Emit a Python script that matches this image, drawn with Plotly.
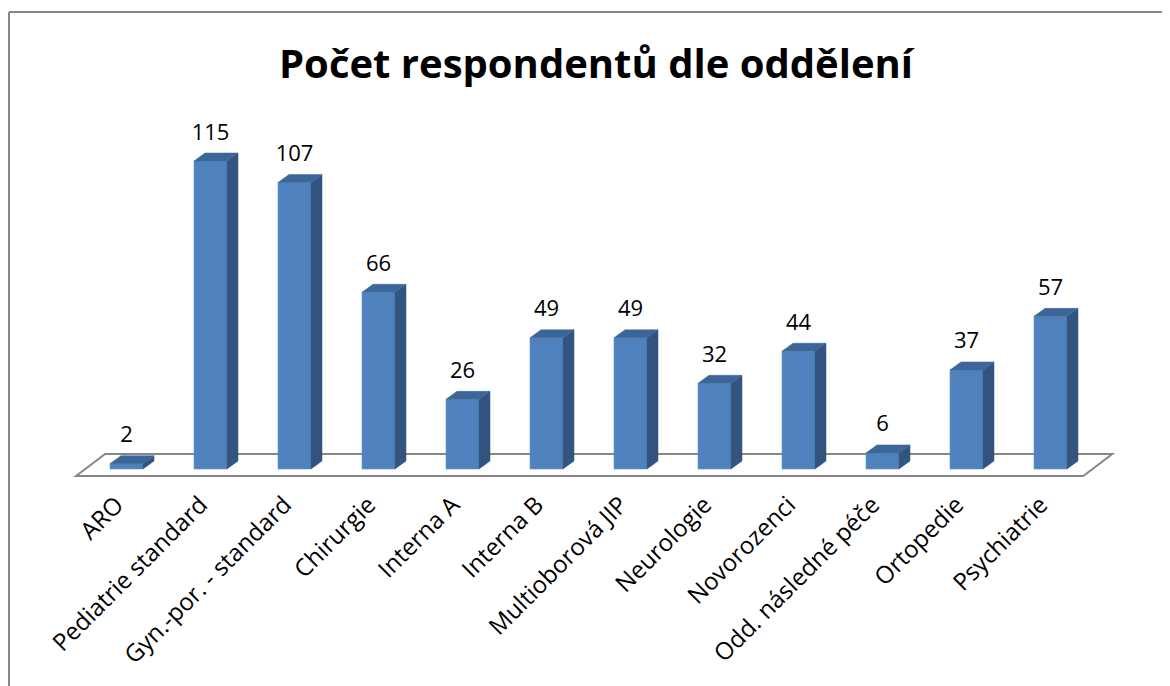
import plotly.graph_objects as go

# ---- data ----
categories = ["ARO", "Pediatrie standard", "Gyn.-por. - standard", "Chirurgie",
              "Interna A", "Interna B", "Multioborová JIP", "Neurologie",
              "Novorozenci", "Odd. následné péče", "Ortopedie", "Psychiatrie"]
values = [2, 115, 107, 66, 26, 49, 49, 32, 44, 6, 37, 57]
title_text = "Počet respondentů dle oddělení"

# ---- styling / projection params ----
OFF = 8                           # page body margin
W, H = 1170 - OFF, 686 - OFF
FONT = "Open Sans"
FRONT = "#4F81BD"
SIDE = "#32547F"
TOP = "#3D6698"
GRID = "#868686"

x0_px, step_px = 126.5 - OFF, 84.0    # category 0 centre, category spacing (px)
base_px, unit_px = 469.0 - OFF, 2.678 # baseline pixel row, px per value unit
bar_w = 0.393                         # bar width in category units
dep_x = 11.0 / step_px                # 3D depth offset (x units)
dep_y = 8.0 / unit_px                 # 3D depth offset (value units)
lab_off = 27.0 / unit_px              # value label offset
lab_shift = 10.0 / step_px            # category labels shifted left

xr = [-x0_px / step_px, (W - x0_px) / step_px]
yr = [(base_px - H) / unit_px, base_px / unit_px]

n = len(categories)
xs = list(range(n))

fig = go.Figure()

# front faces
fig.add_trace(go.Bar(x=xs, y=values, width=bar_w, marker=dict(color=FRONT, line=dict(color="#6A95CB", width=0.6)),
                     hoverinfo="skip", showlegend=False))

# side faces
sx, sy = [], []
for x, v in zip(xs, values):
    r = x + bar_w / 2
    sx += [r, r + dep_x, r + dep_x, r, r, None]
    sy += [0, dep_y, v + dep_y, v, 0, None]
fig.add_trace(go.Scatter(x=sx, y=sy, mode="lines", fill="toself", fillcolor=SIDE,
                         line=dict(color=SIDE, width=0.5), hoverinfo="skip", showlegend=False))

# top faces
tx, ty = [], []
for x, v in zip(xs, values):
    l, r = x - bar_w / 2, x + bar_w / 2
    tx += [l, l + dep_x, r + dep_x, r, l, None]
    ty += [v, v + dep_y, v + dep_y, v, v, None]
fig.add_trace(go.Scatter(x=tx, y=ty, mode="lines", fill="toself", fillcolor=TOP,
                         line=dict(color=TOP, width=0.5), hoverinfo="skip", showlegend=False))

# value labels
fig.add_trace(go.Scatter(x=xs, y=[v + lab_off for v in values], mode="text",
                         text=[str(v) for v in values], textposition="middle center",
                         textfont=dict(family=FONT, size=22, color="#000000"),
                         hoverinfo="skip", showlegend=False))

# floor (3D base plane)
fl_front_y = (469 - 476) / unit_px
fl_back_y = (469 - 454) / unit_px
fl_l = -0.6
fl_r = (n - 1) + 0.39
fl_dx = 0.345
floor_path = (f"M {fl_l},{fl_front_y} L {fl_r},{fl_front_y} L {fl_r + fl_dx},{fl_back_y} "
              f"L {fl_l + fl_dx},{fl_back_y} Z")
fig.add_shape(type="path", path=floor_path, xref="x", yref="y", layer="below",
              line=dict(color=GRID, width=2), fillcolor="rgba(0,0,0,0)")

# outer chart border (only top & left visible)
fig.add_shape(type="line", xref="paper", yref="paper", x0=1 / W, x1=1, y0=1 - 4 / H, y1=1 - 4 / H,
              line=dict(color=GRID, width=2))
fig.add_shape(type="line", xref="paper", yref="paper", x0=1 / W, x1=1 / W, y0=0, y1=1 - 4 / H,
              line=dict(color=GRID, width=2))

# title
fig.add_annotation(text=title_text, xref="paper", yref="paper", x=(596.5 - OFF) / W, y=1 - (62 - OFF) / H,
                   xanchor="center", yanchor="middle", showarrow=False,
                   font=dict(family=FONT, size=40, color="#000000", weight="bold"))

fig.update_layout(
    width=W, height=H, margin=dict(l=0, r=0, t=0, b=0),
    paper_bgcolor="white", plot_bgcolor="white", showlegend=False,
    xaxis=dict(range=xr, showticklabels=False, showgrid=False, zeroline=False, showline=False,
               ticks="", fixedrange=True),
    xaxis2=dict(range=[xr[0] + lab_shift, xr[1] + lab_shift], overlaying="x", anchor="free",
                position=1 - (485 - OFF) / H, side="bottom",
                tickmode="array", tickvals=xs, ticktext=categories, tickangle=-45,
                showgrid=False, zeroline=False, showline=False, ticks="",
                tickfont=dict(family=FONT, size=24, color="#000000"), fixedrange=True),
    yaxis=dict(range=yr, visible=False, showgrid=False, zeroline=False, fixedrange=True),
)
# dummy invisible trace so xaxis2 is rendered
fig.add_trace(go.Scatter(x=[xs[0]], y=[values[0]], xaxis="x2", mode="markers",
                         marker=dict(opacity=0), hoverinfo="skip", showlegend=False))

fig.write_html("out.html")
